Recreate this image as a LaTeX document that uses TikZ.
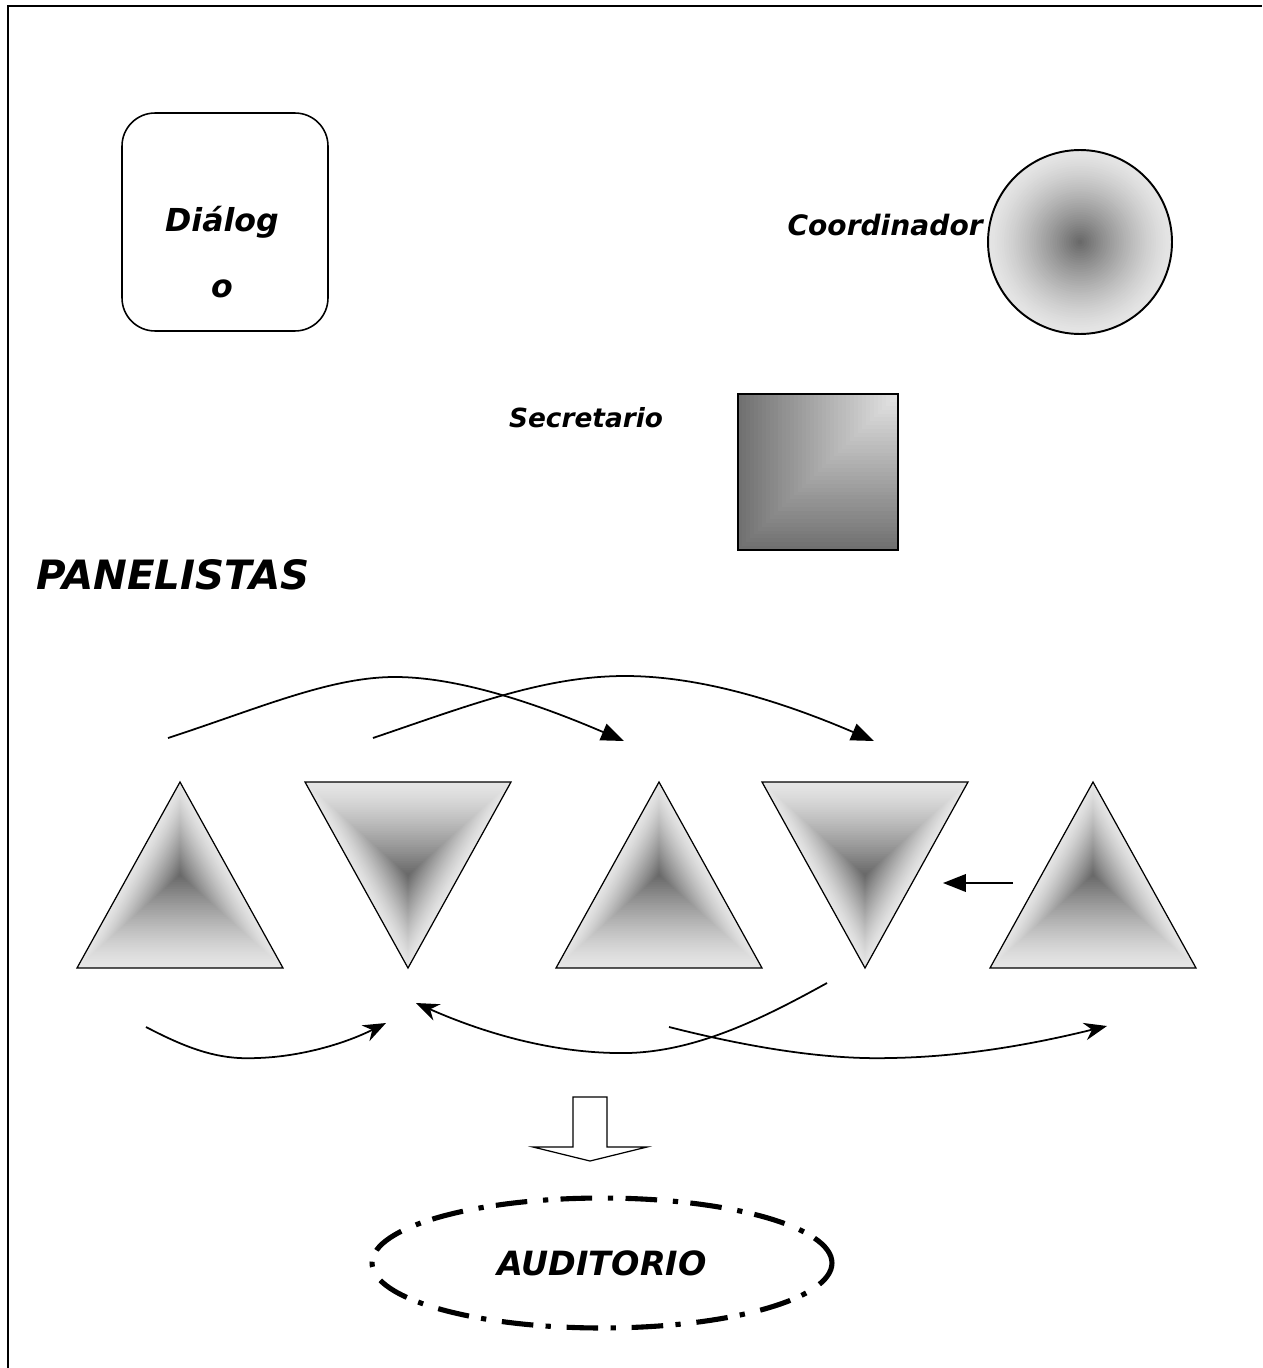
\documentclass[tikz,border=0pt]{standalone}
\usepackage{fontspec}
\setmainfont{DejaVu Sans}
\usetikzlibrary{arrows.meta,shapes.geometric}

\tikzset{
  brush/.style={font=\bfseries\itshape, inner sep=0pt},
  flow/.style={line width=1pt, -{Triangle[length=13pt,width=10pt]}},
  backflow/.style={line width=1pt, -{Stealth[length=13pt,width=10pt]}},
  dialogbox/.style={draw, line width=0.9pt, rounded corners=0.66cm, minimum width=4.12cm, minimum height=4.36cm},
  audit/.style={ellipse, draw, line width=2.9pt, dash pattern=on 18pt off 7pt on 3pt off 9pt,
    minimum width=9.2cm, minimum height=2.6cm, inner sep=0pt, font=\fontsize{19}{22}\selectfont\bfseries\itshape},
}

\begin{document}
\begin{tikzpicture}[x=0.02cm, y=-0.02cm]
\useasboundingbox (0,0) rectangle (1262,1368);

%frame
\draw[line width=1.2pt] (8,1368) -- (8,6) -- (1262,6);

%dialogo
\node[dialogbox] (dialogo) at (225,222) {};
\node[brush, font=\fontsize{18}{21}\selectfont\bfseries\itshape, anchor=base] (dialogoa) at (222,232) {Diálog};
\node[brush, font=\fontsize{18}{21}\selectfont\bfseries\itshape, anchor=base] (dialogob) at (222,297) {o};

%coordinador
\coordinate (coord) at (1080,242);
\foreach \i in {0,...,40} {
  \pgfmathsetmacro\s{1-\i/40}
  \pgfmathsetmacro\c{10+50*(\i/40)^1.3}
  \fill[black!\c] (coord) circle[radius={\s*1.84cm}];
}
\draw[line width=1.1pt] (coord) circle[radius=1.84cm];
\node[brush, font=\fontsize{16}{19}\selectfont\bfseries\itshape, anchor=east] (coordtxt) at (983,225) {Coordinador};

%secretario
\coordinate (secr) at (898,394);
\foreach \i in {0,...,40} {
  \pgfmathsetmacro\s{1-\i/40}
  \pgfmathsetmacro\c{10+46*\s}
  \fill[black!\c] (secr) rectangle ({898-160*\s},{394+156*\s});
}
\draw[line width=1.1pt] (738,394) rectangle (898,550);
\node[brush, font=\fontsize{15}{18}\selectfont\bfseries\itshape] (secrtxt) at (586,418) {Secretario};

%panelistas
\node[brush, font=\fontsize{23}{27}\selectfont\bfseries\itshape] (panel) at (173,575) {PANELISTAS};

\foreach \cx/\dir [count=\n] in {180/1, 408/-1, 659/1, 865/-1, 1093/1} {
  \coordinate (pan\n) at (\cx,875);
  \foreach \i in {0,...,40} {
    \pgfmathsetmacro\s{1-\i/40}
    \pgfmathsetmacro\c{10+50*(\i/40)^1.3}
    \fill[black!\c] ({\cx},{875-93*\dir*\s}) -- ({\cx-103*\s},{875+93*\dir*\s}) -- ({\cx+103*\s},{875+93*\dir*\s}) -- cycle;
  }
  \draw[line width=0.7pt] ({\cx},{875-93*\dir}) -- ({\cx-103},{875+93*\dir}) -- ({\cx+103},{875+93*\dir}) -- cycle;
}

%upper arrows
\coordinate (a1) at (168,738);
\coordinate (a2) at (624,741);
\coordinate (b1) at (373,738);
\coordinate (b2) at (874,741);
\draw[flow] (a1) .. controls (260,708) and (330,677) .. (395,677) .. controls (460,677) and (540,705) .. (a2);
\draw[flow] (b1) .. controls (470,705) and (545,676) .. (625,676) .. controls (705,676) and (790,705) .. (b2);

%side arrow
\coordinate (f1) at (1013,883);
\coordinate (f2) at (943,883);
\draw[flow] (f1) -- (f2);

%lower arrows
\coordinate (c1) at (146,1027);
\coordinate (c2) at (386,1023);
\coordinate (d1) at (827,983);
\coordinate (d2) at (416,1003);
\coordinate (e1) at (669,1027);
\coordinate (e2) at (1107,1026);
\draw[backflow] (c1) .. controls (190,1050) and (220,1060) .. (257,1058) .. controls (295,1057) and (340,1046) .. (c2);
\draw[backflow] (d1) .. controls (760,1020) and (690,1055) .. (616,1053) .. controls (540,1052) and (470,1027) .. (d2);
\draw[backflow] (e1) .. controls (740,1045) and (820,1060) .. (890,1058) .. controls (960,1057) and (1030,1045) .. (e2);

%down block arrow
\draw[line width=0.7pt, fill=white] (573,1097) -- (573,1147) -- (533,1147) -- (590,1161) -- (647,1147) -- (607,1147) -- (607,1097) -- cycle;

%auditorio
\node[audit] (auditorio) at (602,1263) {AUDITORIO};

\end{tikzpicture}
\end{document}
